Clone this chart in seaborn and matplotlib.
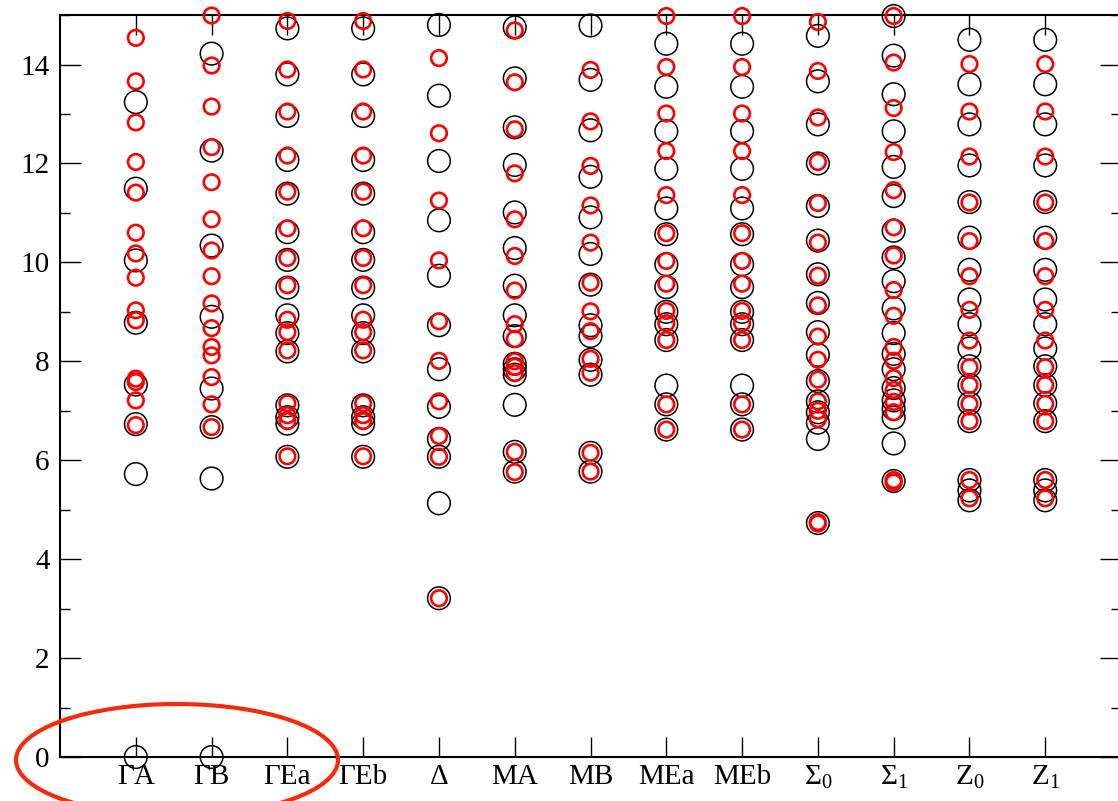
import numpy as np
import pandas as pd
import matplotlib
matplotlib.use("Agg")
import matplotlib.pyplot as plt
from matplotlib.patches import Ellipse
from matplotlib.ticker import MultipleLocator
import seaborn as sns

# category names and their tick labels
categories = ["ΓA", "ΓB", "ΓEa", "ΓEb", "Δ", "MA", "MB", "MEa", "MEb", "Σ0", "Σ1", "Z0", "Z1"]
tick_labels = ["ΓA", "ΓB", "ΓEa", "ΓEb", "Δ", "MA", "MB", "MEa", "MEb",
               "Σ$_0$", "Σ$_1$", "Z$_0$", "Z$_1$"]

# black circles (one list per category)
GA_black = [0, 5.72, 6.73, 7.53, 8.78, 10.04, 11.49, 13.24]
GB_black = [0, 5.63, 6.67, 7.45, 8.90, 10.34, 12.26, 14.22]
GEa_black = [6.07, 6.74, 6.87, 7.11, 8.20, 8.57, 8.93, 9.49, 10.05, 10.61, 11.39, 12.07, 12.96, 13.80, 14.73]
GEb_black = [6.07, 6.74, 6.87, 7.11, 8.20, 8.57, 8.93, 9.49, 10.05, 10.61, 11.39, 12.07, 12.96, 13.80, 14.73]
D_black = [3.21, 5.13, 6.07, 6.43, 7.08, 7.84, 8.73, 9.73, 10.85, 12.05, 13.37, 14.80]
MA_black = [5.77, 6.17, 7.12, 7.73, 7.84, 7.95, 8.51, 8.93, 9.53, 10.29, 11.01, 11.97, 12.73, 13.72, 14.75]
MB_black = [5.77, 6.15, 7.73, 8.03, 8.51, 8.73, 9.55, 10.17, 10.91, 11.73, 12.67, 13.69, 14.79]
MEa_black = [6.62, 7.13, 7.51, 8.43, 8.75, 9.00, 9.50, 9.96, 10.57, 11.09, 11.89, 12.65, 13.55, 14.42]
MEb_black = [6.62, 7.13, 7.51, 8.43, 8.75, 9.00, 9.50, 9.96, 10.57, 11.09, 11.89, 12.65, 13.55, 14.42]
S0_black = [4.73, 6.43, 6.76, 6.97, 7.19, 7.60, 8.13, 8.59, 9.18, 9.76, 10.44, 11.14, 12.00, 12.79, 13.66, 14.58]
S1_black = [5.58, 6.34, 6.86, 7.04, 7.21, 7.46, 7.84, 8.15, 8.57, 9.07, 9.62, 10.10, 10.64, 11.34,
            11.93, 12.65, 13.40, 14.18, 14.98]
Z0_black = [5.19, 5.39, 5.60, 6.79, 7.15, 7.52, 7.90, 8.26, 8.75, 9.25, 9.85, 10.50, 11.22, 11.96,
            12.79, 13.60, 14.50]
Z1_black = [5.19, 5.39, 5.60, 6.79, 7.15, 7.52, 7.90, 8.26, 8.75, 9.25, 9.85, 10.50, 11.22, 11.96,
            12.79, 13.60, 14.50]

# red circles
GA_red = [6.71, 7.21, 7.58, 7.65, 8.83, 9.03, 9.69, 10.18, 10.60, 11.41, 12.03, 12.83, 13.66, 14.54]
GB_red = [6.67, 7.13, 7.68, 8.12, 8.29, 8.67, 9.17, 9.72, 10.24, 10.87, 11.62, 12.33, 13.15, 13.98, 14.99]
GEa_red = [6.08, 6.79, 6.91, 7.15, 8.22, 8.59, 8.84, 9.54, 10.09, 10.69, 11.43, 12.16, 13.05, 13.90, 14.88]
GEb_red = [6.08, 6.79, 6.91, 7.15, 8.22, 8.59, 8.84, 9.54, 10.09, 10.69, 11.43, 12.16, 13.05, 13.90, 14.88]
D_red = [3.21, 6.07, 6.49, 7.19, 8.01, 8.81, 10.04, 11.25, 12.61, 14.13]
MA_red = [5.76, 6.17, 7.76, 7.89, 8.00, 8.45, 8.75, 9.43, 10.13, 10.87, 11.80, 12.69, 13.64, 14.69]
MB_red = [5.77, 6.15, 7.77, 8.05, 8.61, 9.01, 9.59, 10.40, 11.15, 11.95, 12.85, 13.89]
MEa_red = [6.62, 7.13, 8.43, 8.77, 9.02, 9.57, 10.03, 10.59, 11.36, 12.25, 13.01, 13.95, 14.98]
MEb_red = [6.62, 7.13, 8.43, 8.77, 9.02, 9.57, 10.03, 10.59, 11.36, 12.25, 13.01, 13.95, 14.98]
S0_red = [4.72, 4.75, 6.83, 7.00, 7.19, 7.63, 8.03, 8.50, 9.13, 9.73, 10.40, 11.20, 12.03, 12.93, 13.87, 14.86]
S1_red = [5.55, 5.60, 6.97, 7.18, 7.42, 7.66, 8.01, 8.29, 8.92, 9.44, 10.14, 10.71, 11.46, 12.23,
          13.12, 14.04, 14.98]
Z0_red = [5.23, 5.60, 6.79, 7.14, 7.52, 7.88, 8.42, 9.04, 9.72, 10.43, 11.21, 12.14, 13.05, 14.01]
Z1_red = [5.23, 5.60, 6.79, 7.14, 7.52, 7.88, 8.42, 9.04, 9.72, 10.43, 11.21, 12.14, 13.05, 14.01]

black = [GA_black, GB_black, GEa_black, GEb_black, D_black, MA_black, MB_black,
         MEa_black, MEb_black, S0_black, S1_black, Z0_black, Z1_black]
red = [GA_red, GB_red, GEa_red, GEb_red, D_red, MA_red, MB_red,
       MEa_red, MEb_red, S0_red, S1_red, Z0_red, Z1_red]

rows = []
for cat, vals in zip(categories, black):
    for v in vals:
        rows.append((cat, v, "black"))
for cat, vals in zip(categories, red):
    for v in vals:
        rows.append((cat, v, "red"))
df = pd.DataFrame(rows, columns=["point", "energy", "set"])
df["pos"] = pd.Categorical(df["point"], categories=categories).codes

sns.set_style("ticks")
plt.rcParams["font.family"] = ["Liberation Serif", "DejaVu Serif"]
plt.rcParams["mathtext.fontset"] = "custom"
plt.rcParams["mathtext.rm"] = "Liberation Serif"
plt.rcParams["mathtext.default"] = "regular"

fig = plt.figure(figsize=(11.18, 8.01), dpi=100)
ax = fig.add_axes([0.0537, 0.0549, 0.949, 0.9263])

sns.scatterplot(data=df[df["set"] == "black"], x="pos", y="energy", ax=ax,
                marker="o", s=266, facecolor="none", edgecolor="black",
                linewidth=1.1, clip_on=False, zorder=3, legend=False)
sns.scatterplot(data=df[df["set"] == "red"], x="pos", y="energy", ax=ax,
                marker="o", s=126, facecolor="none", edgecolor="#ff0000",
                linewidth=1.9, clip_on=False, zorder=4, legend=False)

ax.set_xlim(-1, 13)
ax.set_ylim(0, 15)
ax.set_xticks(range(len(categories)))
ax.set_xticklabels(tick_labels)
ax.yaxis.set_major_locator(MultipleLocator(2))
ax.yaxis.set_minor_locator(MultipleLocator(1))
ax.set_xlabel("")
ax.set_ylabel("")

ax.tick_params(axis="x", which="major", direction="in", length=14.5, width=1.0,
               top=True, bottom=True, labelsize=21, pad=5, color="black",
               labelcolor="black")
ax.tick_params(axis="y", which="major", direction="in", length=15, width=1.0,
               left=True, right=True, labelsize=21, pad=7.5, color="black",
               labelcolor="black")
ax.tick_params(axis="y", which="minor", direction="in", length=7.5, width=1.0,
               left=True, right=True, color="black")
for side in ax.spines.values():
    side.set_linewidth(1.5)
    side.set_color("black")

# red ellipse highlighting the zero-energy points
ell = Ellipse((177 / 1118, 1 - 760 / 801), 322 / 1118, 112 / 801,
              transform=fig.transFigure, fill=False, edgecolor="#f52a0c",
              linewidth=3.0, clip_on=False, zorder=10)
fig.patches.append(ell)

fig.savefig("out.png", dpi=100)
